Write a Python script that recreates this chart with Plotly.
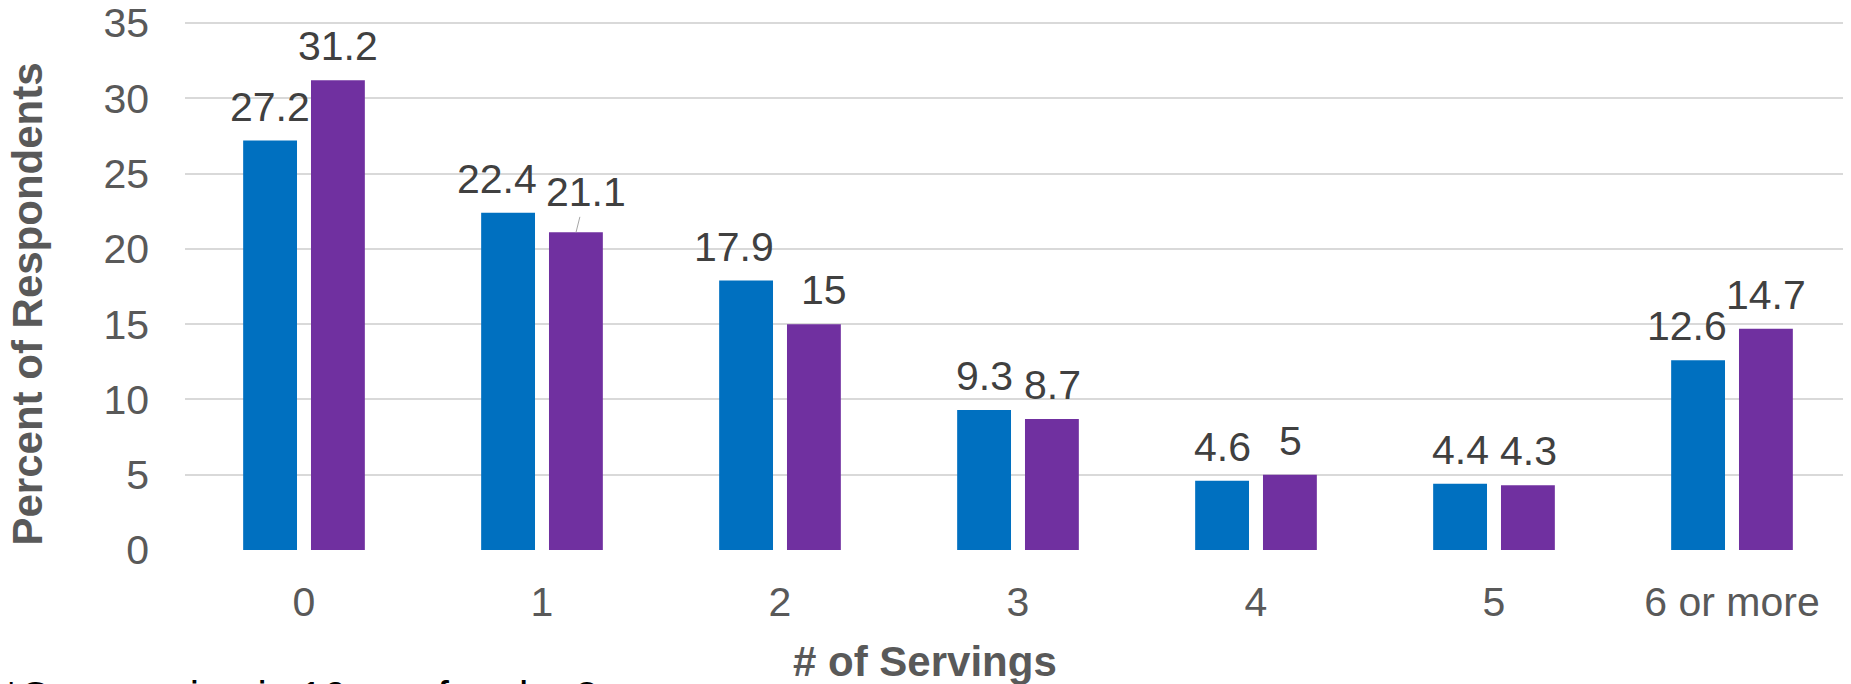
import plotly.graph_objects as go

servings = ["0", "1", "2", "3", "4", "5", "6 or more"]
group_a = [27.2, 22.4, 17.9, 9.3, 4.6, 4.4, 12.6]
group_b = [31.2, 21.1, 15, 8.7, 5, 4.3, 14.7]

blue = "#0070C0"
purple = "#7030A0"
font = "Liberation Sans, Arial, sans-serif"

fig = go.Figure()
fig.add_trace(go.Bar(x=servings, y=group_a, marker_color=blue, marker_line_width=0, name="A"))
fig.add_trace(go.Bar(x=servings, y=group_b, marker_color=purple, marker_line_width=0, name="B"))

# data labels, a few nudged sideways like in the original
nudge_a = {"1": -11, "2": -12, "6 or more": -11}
nudge_b = {"1": 10, "2": 10}
for vals, off, nudge in [(group_a, -34, nudge_a), (group_b, 34, nudge_b)]:
    for cat, v in zip(servings, vals):
        lbl = f"{v:g}"
        if off > 0 and cat == "1":
            # this one sits higher with a leader line
            fig.add_annotation(x=cat, y=v, xref="x", yref="y", text=lbl, xshift=off,
                               showarrow=True, arrowhead=0, arrowwidth=1, arrowcolor="#A6A6A6",
                               ax=10, ay=-40, standoff=0,
                               font=dict(family=font, size=41, color="#404040"))
            continue
        fig.add_annotation(x=cat, y=v, xref="x", yref="y", text=lbl, showarrow=False,
                           xshift=off + nudge.get(cat, 0), yshift=9, yanchor="bottom",
                           font=dict(family=font, size=41, color="#404040"))

fig.add_annotation(text="<b>Percent of Respondents</b>", xref="paper", yref="paper",
                   x=0, y=0.5, xshift=-158, yshift=-19, xanchor="center", yanchor="middle",
                   textangle=-90, showarrow=False,
                   font=dict(family=font, size=42, color="#595959"))
fig.add_annotation(text="<b># of Servings</b>", xref="paper", yref="paper",
                   x=0.4442, y=0, yshift=-111, xanchor="center", yanchor="middle", showarrow=False,
                   font=dict(family=font, size=42, color="#595959"))
fig.add_annotation(text="*One serving is 16 oz of soda, 2", xref="paper", yref="paper",
                   x=0, xshift=-184, y=0, yshift=-121, xanchor="left", yanchor="top", showarrow=False,
                   font=dict(family=font, size=42, color="#000000"))

# page body sits 8px in, so margins are trimmed by 8 on the top/left
fig.update_layout(
    width=1851, height=684,
    margin=dict(l=177, r=8, t=13, b=142, autoexpand=False),
    barmode="group", bargap=0.43, bargroupgap=0.206,
    showlegend=False,
    plot_bgcolor="white", paper_bgcolor="white",
    font=dict(family=font, size=41, color="#595959"),
)
fig.update_yaxes(range=[0, 35.14], tickvals=[0, 5, 10, 15, 20, 25, 30, 35],
                 showgrid=True, gridcolor="#D9D9D9", gridwidth=1.5,
                 zeroline=False, showline=False, ticklabelstandoff=35, automargin=False,
                 ticklabeloverflow="allow",
                 tickfont=dict(family=font, size=41, color="#595959"))
fig.update_xaxes(showgrid=False, showline=False, ticklabelstandoff=24, automargin=False,
                 tickfont=dict(family=font, size=41, color="#595959"))

fig.write_html("out.html")
